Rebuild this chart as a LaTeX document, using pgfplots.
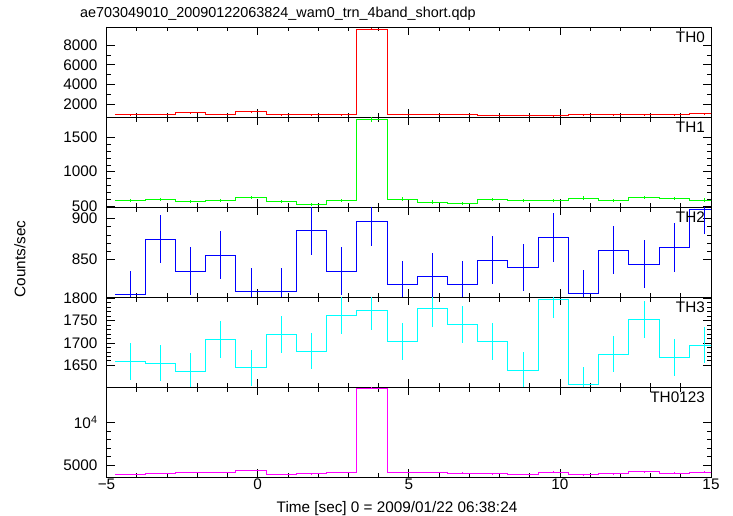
\documentclass[border=0pt]{standalone}
\usepackage{fontspec}
\setmainfont{Liberation Sans}
\usepackage{pgfplots}
\usepackage{pgfplotstable}
\pgfplotsset{compat=1.18}

% columns: e = bin left edge, c = bin centre, y = rate, err = 1 sigma
\pgfplotstableread{
e c y err
-4.72 -4.22 953 31
-3.72 -3.22 1014 32
-2.72 -2.22 1156 34
-1.72 -1.22 1014 32
-0.72 -0.22 1257 35
0.28 0.78 952 31
1.28 1.78 940 31
2.28 2.78 952 31
3.28 3.78 9600 98
4.28 4.78 1020 32
5.28 5.78 1020 32
6.28 6.78 1020 32
7.28 7.78 918 30
8.28 8.78 918 30
9.28 9.78 850 29
10.28 10.78 952 31
11.28 11.78 952 31
12.28 12.78 952 31
13.28 13.78 952 31
14.28 14.78 1054 32
15.28 15.78 1054 32
}\thzero

\pgfplotstableread{
e c y err
-4.72 -4.22 583 24
-3.72 -3.22 593 24
-2.72 -2.22 569 24
-1.72 -1.22 583 24
-0.72 -0.22 623 25
0.28 0.78 569 24
1.28 1.78 520 23
2.28 2.78 583 24
3.28 3.78 1763 42
4.28 4.78 603 25
5.28 5.78 559 24
6.28 6.78 540 23
7.28 7.78 593 24
8.28 8.78 578 24
9.28 9.78 578 24
10.28 10.78 617 25
11.28 11.78 583 24
12.28 12.78 623 25
13.28 13.78 612 25
14.28 14.78 588 24
15.28 15.78 588 24
}\thone

\pgfplotstableread{
e c y err
-4.72 -4.22 807.3 28.4
-3.72 -3.22 874.8 29.6
-2.72 -2.22 835.7 28.9
-1.72 -1.22 854.9 29.2
-0.72 -0.22 811.3 28.5
0.28 0.78 811.3 28.5
1.28 1.78 885.4 29.8
2.28 2.78 835.7 28.9
3.28 3.78 896.3 29.9
4.28 4.78 819.5 28.6
5.28 5.78 829.6 28.8
6.28 6.78 820.0 28.6
7.28 7.78 849.1 29.1
8.28 8.78 840.2 29.0
9.28 9.78 876.8 29.6
10.28 10.78 809.3 28.4
11.28 11.78 861.3 29.3
12.28 12.78 844.3 29.1
13.28 13.78 864.6 29.4
14.28 14.78 911.3 30.2
15.28 15.78 911.3 30.2
}\thtwo

\pgfplotstableread{
e c y err
-4.72 -4.22 1658.3 40.7
-3.72 -3.22 1654.5 40.7
-2.72 -2.22 1635.8 40.4
-1.72 -1.22 1707.8 41.3
-0.72 -0.22 1644.0 40.5
0.28 0.78 1719.0 41.5
1.28 1.78 1682.0 41.0
2.28 2.78 1762.5 42.0
3.28 3.78 1772.0 42.1
4.28 4.78 1703.0 41.3
5.28 5.78 1777.5 42.2
6.28 6.78 1742.0 41.7
7.28 7.78 1704.0 41.3
8.28 8.78 1639.0 40.5
9.28 9.78 1798.5 42.4
10.28 10.78 1606.5 40.1
11.28 11.78 1675.0 40.9
12.28 12.78 1753.0 41.9
13.28 13.78 1667.0 40.8
14.28 14.78 1695.0 41.2
15.28 15.78 1695.0 41.2
}\ththree

\pgfplotstableread{
e c y err
-4.72 -4.22 3900 62
-3.72 -3.22 4018 63
-2.72 -2.22 4136 64
-1.72 -1.22 4136 64
-0.72 -0.22 4370 66
0.28 0.78 3900 62
1.28 1.78 3978 63
2.28 2.78 4136 64
3.28 3.78 14066 119
4.28 4.78 4136 64
5.28 5.78 4136 64
6.28 6.78 4057 64
7.28 7.78 3978 63
8.28 8.78 3900 62
9.28 9.78 4175 65
10.28 10.78 3860 62
11.28 11.78 3978 63
12.28 12.78 4215 65
13.28 13.78 4057 64
14.28 14.78 4175 65
15.28 15.78 4175 65
}\thall

\definecolor{cred}{RGB}{255,0,0}
\definecolor{cgreen}{RGB}{0,255,0}
\definecolor{cblue}{RGB}{0,0,255}
\definecolor{ccyan}{RGB}{0,255,255}
\definecolor{cmag}{RGB}{255,0,255}

\pgfplotsset{
  panel/.style={
    scale only axis, width=604.5pt, height=90pt,
    anchor=north west,
    xmin=-5, xmax=15,
    xtick={-5,0,5,10,15}, minor x tick num=4,
    xticklabels={},
    tick align=inside,
    major tick length=8pt, minor tick length=4.5pt,
    axis line style={line width=0.8pt, black},
    every tick/.style={black, line width=0.6pt},
    scaled y ticks=false,
    /pgf/number format/assume math mode=true,
    tick label style={font=\fontsize{15.3}{18}\selectfont},
    yticklabel style={xshift=-5.5pt},
    xticklabel style={inner sep=2pt},
  },
  stepline/.style={const plot mark left, mark=none, line width=0.8pt, color=#1},
  errs/.style={only marks, mark=*, mark size=0pt,
    mark options={draw=none, fill=none, draw opacity=0, fill opacity=0},
    error bars/.cd, y dir=both, y explicit,
    error mark=none, error bar style={line width=0.8pt, color=#1, draw opacity=1}},
}

\newcommand{\plab}[1]{\node[anchor=north east, inner sep=0pt, font=\fontsize{15.3}{18}\selectfont] at (rel axis cs:1,1) [xshift=-6pt, yshift=-5pt] {#1};}

\begin{document}
\begin{tikzpicture}
\useasboundingbox (0,0) rectangle (733pt,-516pt);

\node[anchor=base west, inner sep=0pt, font=\fontsize{14.4}{16}\selectfont] at (80pt,-18pt)
  {ae703049010\_20090122063824\_wam0\_trn\_4band\_short.qdp};

\node[rotate=90, inner sep=0pt, font=\fontsize{15.3}{18}\selectfont] at (20pt,-259pt) {Counts/sec};

\node[anchor=base, inner sep=0pt, font=\fontsize{15.3}{18}\selectfont] at (397pt,-512.5pt)
  {Time [sec] 0 = 2009/01/22 06:38:24};

% TH0
\begin{axis}[panel, at={(106.5pt,-27pt)},
  ymin=708, ymax=9830,
  ytick={2000,4000,6000,8000}, yticklabels={2000,4000,6000,8000},
  minor y tick num=1]
  \addplot[stepline=cred] table[x=e, y=y] {\thzero};
  \addplot[errs=cred] table[x=c, y=y, y error=err] {\thzero};
  \plab{TH0}
\end{axis}

% TH1
\begin{axis}[panel, at={(106.5pt,-117pt)},
  ymin=485, ymax=1797,
  ytick={500,1000,1500}, yticklabels={500,1000,1500},
  minor y tick num=4]
  \addplot[stepline=cgreen] table[x=e, y=y] {\thone};
  \addplot[errs=cgreen] table[x=c, y=y, y error=err] {\thone};
  \plab{TH1}
\end{axis}

% TH2
\begin{axis}[panel, at={(106.5pt,-207pt)},
  ymin=804.4, ymax=913.8,
  ytick={850,900}, yticklabels={850,900},
  minor y tick num=4]
  \addplot[stepline=cblue] table[x=e, y=y] {\thtwo};
  \addplot[errs=cblue] table[x=c, y=y, y error=err] {\thtwo};
  \plab{TH2}
\end{axis}

% TH3
\begin{axis}[panel, at={(106.5pt,-297pt)},
  ymin=1601, ymax=1803,
  ytick={1650,1700,1750,1800}, yticklabels={1650,1700,1750,1800},
  minor y tick num=4]
  \addplot[stepline=ccyan] table[x=e, y=y] {\ththree};
  \addplot[errs=ccyan] table[x=c, y=y, y error=err] {\ththree};
  \plab{TH3}
\end{axis}

% TH0123
\begin{axis}[panel, at={(106.5pt,-387pt)},
  ymin=3582, ymax=14220,
  ytick={5000,10000}, yticklabels={5000,10\textsuperscript{4}},
  minor y tick num=4,
  xticklabels={−5,0,5,10,15}]
  \addplot[stepline=cmag] table[x=e, y=y] {\thall};
  \addplot[errs=cmag] table[x=c, y=y, y error=err] {\thall};
  \plab{TH0123}
\end{axis}
\end{tikzpicture}
\end{document}
